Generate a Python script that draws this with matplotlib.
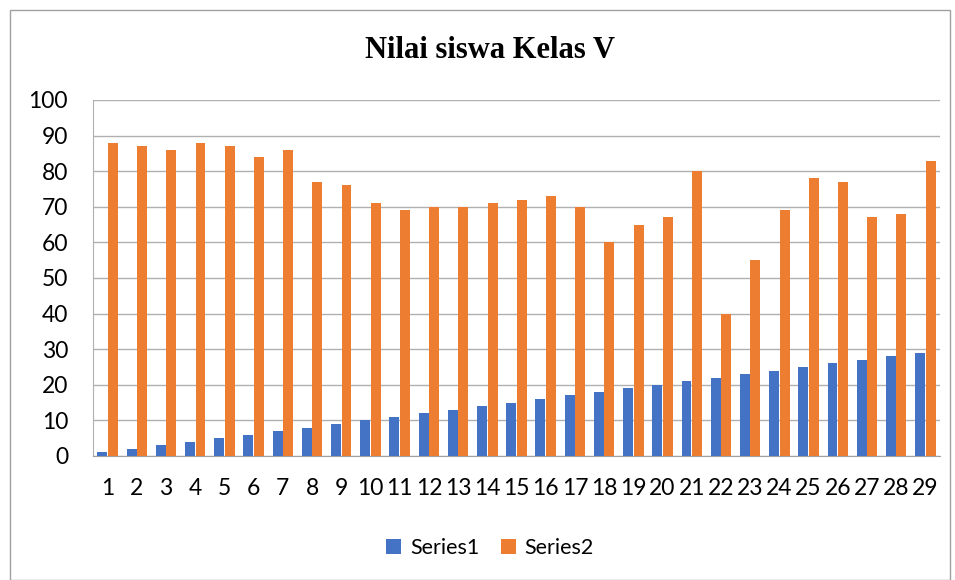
import numpy as np
import matplotlib.pyplot as plt
from matplotlib.patches import Rectangle

# data
siswa = list(range(1, 30))
series1 = [1, 2, 3, 4, 5, 6, 7, 8, 9, 10, 11, 12, 13, 14, 15, 16, 17, 18, 19, 20,
           21, 22, 23, 24, 25, 26, 27, 28, 29]
series2 = [88, 87, 86, 88, 87, 84, 86, 77, 76, 71, 69, 70, 70, 71, 72, 73, 70, 60,
           65, 67, 80, 40, 55, 69, 78, 77, 67, 68, 83]

plt.rcParams['font.family'] = ['Lato', 'DejaVu Sans']

fig = plt.figure(figsize=(9.55, 5.8), dpi=100)
ax = fig.add_axes([93/955, 1 - 456/580, (940 - 93)/955, (456 - 100)/580])

x = np.array(siswa)
w = 0.34
ax.bar(x - 0.18, series1, w, color='#4472C4', label='Series1', zorder=3)
ax.bar(x + 0.18, series2, w, color='#ED7D31', label='Series2', zorder=3)

ax.set_xlim(0.5, 29.5)
ax.set_ylim(0, 100)
ax.set_yticks(range(0, 101, 10))
ax.set_xticks(x)
ax.set_xticklabels([str(s) for s in siswa])
ax.tick_params(axis='both', length=0, labelsize=16.5, colors='black')
ax.tick_params(axis='x', pad=16)
ax.tick_params(axis='y', pad=18)
ax.grid(axis='y', color='#b0b0b0', linewidth=1, zorder=0)

for s in ['top', 'right']:
    ax.spines[s].set_visible(False)
ax.spines['left'].set_color('#b0b0b0')
ax.spines['bottom'].set_color('#a0a0a0')

fig.text(490/955, 1 - 50/580, 'Nilai siswa Kelas V', ha='center', va='center',
         fontsize=22, fontweight='bold', family='Liberation Serif')

fig.legend(loc='center', bbox_to_anchor=(490/955, 1 - 548/580), ncol=2,
           frameon=False, fontsize=15.5, handlelength=0.7, handleheight=0.7,
           handletextpad=0.4, columnspacing=1.0)

fig.patches.append(Rectangle((10/955, 0), 940/955, 1 - 10/580, transform=fig.transFigure,
                             fill=False, edgecolor='#a0a0a0', linewidth=1))

fig.savefig('out.png', dpi=100)
